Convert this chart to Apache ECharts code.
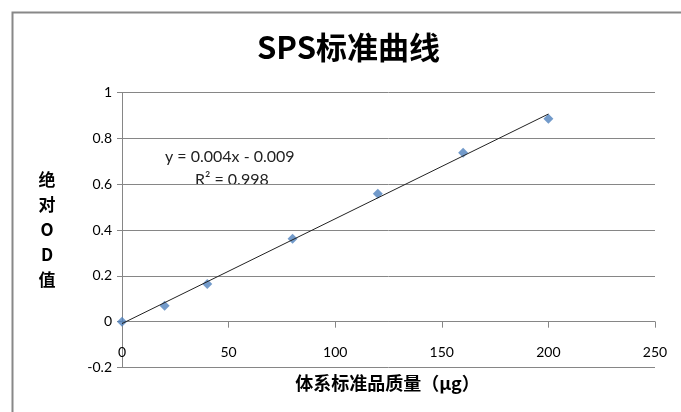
<!DOCTYPE html>
<html><head><meta charset="utf-8">
<script src="https://cdn.jsdelivr.net/npm/echarts@6/dist/echarts.min.js"></script>
<style>html,body{margin:0;padding:0;background:#fff}#c{width:681px;height:412px}</style>
</head><body><div id="c"></div>
<script>
const titleText = 'SPS标准曲线';
const xName = '体系标准品质量（μg）';
const yName = '绝\n对\nO\nD\n值';
const massValues = [0, 20, 40, 80, 120, 160, 200];
const odValues = [0, 0.069, 0.164, 0.362, 0.558, 0.737, 0.886];
const equationLines = ['y = 0.004x - 0.009', 'R² = 0.998'];

// least-squares trendline from the data
const n = massValues.length;
const mx = massValues.reduce((a,b)=>a+b,0)/n;
const my = odValues.reduce((a,b)=>a+b,0)/n;
let sxx=0, sxy=0;
for (let i=0;i<n;i++){ sxx+=(massValues[i]-mx)**2; sxy+=(massValues[i]-mx)*(odValues[i]-my); }
const slope = sxy/sxx, icpt = my - slope*mx;
const xMin = Math.min(...massValues), xMax = Math.max(...massValues);
const trend = [[xMin, slope*xMin+icpt],[xMax, slope*xMax+icpt]];

const chart = echarts.init(document.getElementById('c'));
const labelFont = {fontFamily:'Lato', fontSize:14, color:'#000'};
chart.setOption({
  animation:false,
  backgroundColor:'#fff',
  title:{text:titleText, left:252, top:27, textStyle:{fontFamily:'Noto Sans CJK SC', fontWeight:'bold', fontSize:31, color:'#000'}},
  grid:{left:122, right:26, top:92.5, bottom:44.5, containLabel:false, outerBoundsMode:'none'},
  xAxis:{type:'value', min:0, max:250, interval:50,
    name:xName, nameLocation:'middle', nameGap:7,
    nameTextStyle:{fontFamily:'Noto Sans CJK SC', fontWeight:'bold', fontSize:18, color:'#000', padding:[0,0,0,-2]},
    axisLine:{onZero:true, lineStyle:{color:'#868686', width:1}},
    axisTick:{show:true, length:6, lineStyle:{color:'#868686'}},
    axisLabel:Object.assign({margin:-22}, labelFont),
    splitLine:{show:false}},
  yAxis:{type:'value', min:-0.2, max:1, interval:0.2,
    name:yName, nameLocation:'middle', nameGap:75, nameRotate:0,
    nameTextStyle:{fontFamily:'Noto Sans CJK SC', fontWeight:'bold', fontSize:17, color:'#000', lineHeight:25, align:'center', verticalAlign:'middle'},
    axisLine:{show:true, lineStyle:{color:'#868686', width:1}},
    axisTick:{show:true, length:5, lineStyle:{color:'#868686'}},
    axisLabel:Object.assign({margin:10, formatter:v=>String(+v.toFixed(1))}, labelFont),
    splitLine:{show:true, lineStyle:{color:'#868686', width:1}}},
  series:[
    {type:'scatter', data:massValues.map((x,i)=>[x, odValues[i]]), symbol:'diamond', symbolSize:10,
     itemStyle:{color:'#4F81BD'}, z:2},
    {type:'line', data:trend, showSymbol:false, symbol:'none', lineStyle:{color:'#222', width:1}, z:3, silent:true}
  ],
  graphic:[
    {type:'rect', left:10, top:10, shape:{width:700, height:420}, style:{fill:'none', stroke:'#888', lineWidth:2}, silent:true},
    {type:'text', left:165, top:149, style:{text:equationLines[0], fontFamily:'Lato', fontSize:16, fill:'#222'}},
    {type:'text', left:195, top:172, style:{text:equationLines[1], fontFamily:'Lato', fontSize:16, fill:'#222'}}
  ]
});
</script></body></html>
